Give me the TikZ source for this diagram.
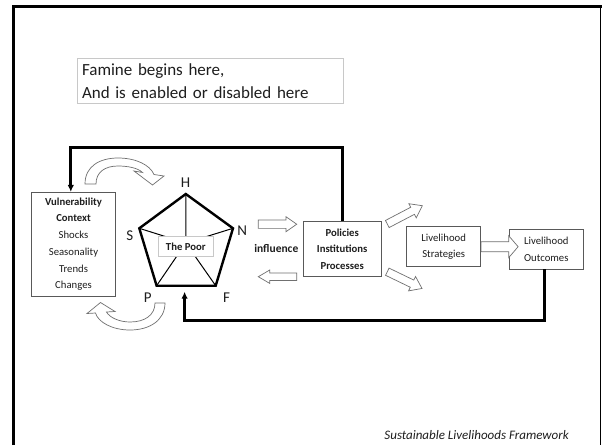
\documentclass[tikz,border=0pt]{standalone}
\usepackage{fontspec}
\setmainfont{Carlito}
\usetikzlibrary{arrows.meta,calc}
\definecolor{boxgray}{HTML}{595959}
\definecolor{paleframe}{HTML}{C8C8C8}
\definecolor{arrowgray}{HTML}{707070}
\definecolor{ink}{HTML}{1E1E1E}

\tikzset{
  textbox/.style={draw=boxgray, line width=0.8pt, fill=white, align=center,
    inner sep=0pt, text=ink, font=\fontsize{10.7}{16.7}\selectfont},
  link/.style={line width=2.8pt, -{Latex[length=7pt,width=6.5pt]}},
  corner/.style={text=ink, font=\fontsize{15}{17}\selectfont, inner sep=0pt},
  hollow/.style={draw=arrowgray, fill=white, line width=0.7pt, line join=miter},
  spoke/.style={line width=1pt},
  % straight hollow block arrow: length, shaft width, head width, head length
  pics/blockarrow/.style n args={4}{code={
    \draw[hollow] (0,{-#2/2}) -- ({#1-#4},{-#2/2}) -- ({#1-#4},{-#3/2}) -- (#1,0)
      -- ({#1-#4},{#3/2}) -- ({#1-#4},{#2/2}) -- (0,{#2/2}) -- cycle;
  }}
}

\begin{document}
\begin{tikzpicture}[x=1pt,y=-1pt]
  \useasboundingbox[fill=white] (0,0) rectangle (602,445);

  % slide frame
  \draw[line width=3pt] (13.5,445) -- (13.5,6) -- (601.5,6);
  \draw[line width=1.6pt] (600.6,6) -- (600.6,445);

  % heading box
  \node[draw=paleframe, line width=0.8pt, text=ink, align=left, inner sep=5pt,
        text width=256pt, font=\fontsize{17}{22.7}\selectfont] (head) at (210,81)
        {Famine begins here,\\And is enabled or disabled here};

  % vulnerability context
  \node[textbox, minimum width=84pt, minimum height=103.7pt] (vul) at (73.5,244.2)
    {\textbf{Vulnerability}\\\textbf{Context}\\Shocks\\Seasonality\\Trends\\Changes};

  % asset pentagon
  \coordinate (vH) at (185.8,194);
  \coordinate (vS) at (139.3,228.3);
  \coordinate (vN) at (233,228.3);
  \coordinate (vP) at (156.6,285.7);
  \coordinate (vF) at (215.7,285.7);
  \coordinate (hub) at (185.8,243);
  \draw[spoke] (vH) -- (hub) (vS) -- (hub) (vN) -- (hub) (vP) -- (hub) (vF) -- (hub);
  \node[draw=paleframe, line width=0.7pt, fill=white, inner sep=0pt, text=ink,
        minimum width=55pt, minimum height=20pt,
        font=\bfseries\fontsize{10.7}{12}\selectfont] (poor) at (185.8,246.7) {The Poor};
  \draw[line width=2.4pt, line join=miter] (vH) -- (vN) -- (vF) -- (vP) -- (vS) -- cycle;

  \node[corner] (lH) at (185.6,182.8) {H};
  \node[corner] (lS) at (129.8,236) {S};
  \node[corner] (lN) at (242.3,230.4) {N};
  \node[corner] (lP) at (147.8,297.2) {P};
  \node[corner] (lF) at (226.6,298) {F};

  % transforming structures
  \node[textbox, minimum width=78.5pt, minimum height=54.8pt,
        font=\bfseries\fontsize{10.7}{16.7}\selectfont] (pol) at (342.2,249.1)
    {Policies\\Institutions\\Processes};
  \node[text=ink, inner sep=0pt, font=\bfseries\fontsize{11.5}{13}\selectfont] (infl)
    at (276.3,248.5) {influence};

  % strategies and outcomes
  \node[textbox, minimum width=74pt, minimum height=40pt] (strat) at (443.7,246.7)
    {Livelihood\\Strategies};
  \node[textbox, minimum width=74pt, minimum height=39.7pt] (out) at (546.3,249.2)
    {Livelihood\\Outcomes};

  % hollow block arrows
  \pic at (258.3,224.2) {blockarrow={38.4}{8.3}{15}{10.7}};
  \pic[rotate=180] at (296.7,276.7) {blockarrow={38.4}{7.5}{13.5}{11.5}};
  \pic[rotate=27.6] at (387.3,224) {blockarrow={39.5}{8}{16}{11}};
  \pic[rotate=-25.8] at (387.3,271.7) {blockarrow={38.5}{8}{16}{11}};
  \pic at (strat.east) {blockarrow={37}{10}{22}{9.4}};

  % curved hollow arrows between context and assets
  \draw[hollow]
    (85,184) .. controls (85,166) and (100,158) .. (118,158)
             .. controls (136,158) and (150,165) .. (154,174.5)
    -- (164,176) -- (152.5,185) -- (134,171) -- (142.5,172.5)
             .. controls (138,168) and (128,166) .. (118,166)
             .. controls (105,166) and (96,172) .. (96,184) -- cycle;
  \draw[hollow]
    (155,303) -- (165,303)
             .. controls (165,320) and (150,330) .. (130,330)
             .. controls (112,330) and (98,322) .. (95.5,313)
    -- (87,313.5) -- (100.5,302.5) -- (115,311.5) -- (106.5,312)
             .. controls (110,318) and (120,322) .. (130,322)
             .. controls (145,322) and (155,315) .. (155,303) -- cycle;

  % feedback loops
  \coordinate (toprow) at (0,147.5);
  \coordinate (botrow) at (0,320.7);
  \coordinate (pin) at (184.6,291.7);
  \draw[link] (pol.north) |- ([xshift=-2.7pt]vul.north |- toprow)
    -- ([xshift=-2.7pt]vul.north);
  \draw[link] ([xshift=-2pt]out.south) |- (botrow -| pin) -- (pin);

  % caption
  \node[anchor=east, inner sep=0pt, text=ink,
        font=\itshape\fontsize{13}{15}\selectfont] (cap) at (569,435)
    {Sustainable Livelihoods Framework};
\end{tikzpicture}
\end{document}
